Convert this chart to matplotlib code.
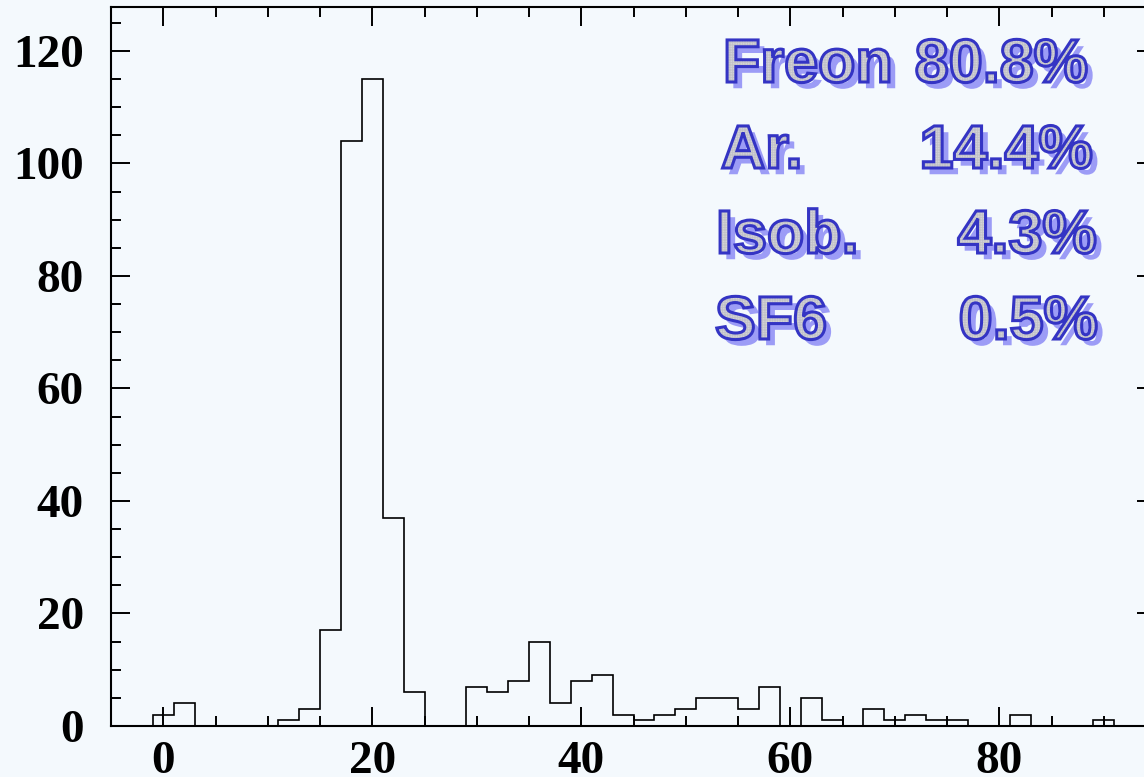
import matplotlib
matplotlib.use('Agg')
import matplotlib.pyplot as plt
import matplotlib.patheffects as pe
import numpy as np
from matplotlib.ticker import MultipleLocator

# histogram bins (width 2, centred on even values)
bin_edges = np.arange(-1, 93, 2)
counts = [2, 4, 0, 0, 0, 0, 1, 3, 17, 104, 115, 37, 6, 0, 0, 7, 6, 8, 15, 4,
          8, 9, 2, 1, 2, 3, 5, 5, 3, 7, 0, 5, 1, 0, 3, 1, 2, 1, 1, 0,
          0, 2, 0, 0, 0, 1]

gas_names = ['Freon', 'Ar.', 'Isob.', 'SF6']
gas_fractions = ['80.8%', '14.4%', '4.3%', '0.5%']

BG = '#f4f9fd'
W, H = 1144, 777

plt.rcParams['hatch.linewidth'] = 0.5

fig = plt.figure(figsize=(W / 100, H / 100), dpi=100, facecolor=BG)
ax = fig.add_axes([111 / W, 51 / H, 1045 / W, 719 / H], facecolor=BG)

ax.stairs(counts, bin_edges, color='black', linewidth=1.2)

ax.set_xlim(-5, 95)
ax.set_ylim(0, 127.8)

ax.xaxis.set_major_locator(MultipleLocator(20))
ax.xaxis.set_minor_locator(MultipleLocator(5))
ax.yaxis.set_major_locator(MultipleLocator(20))
ax.yaxis.set_minor_locator(MultipleLocator(5))

ax.tick_params(which='both', direction='in', top=True, right=True, width=1.4)
ax.tick_params(which='major', length=13.5)
ax.tick_params(which='minor', length=7)
ax.tick_params(axis='x', pad=11)
ax.tick_params(axis='y', pad=19.5)
for lab in ax.get_xticklabels() + ax.get_yticklabels():
    lab.set_fontfamily('Liberation Serif')
    lab.set_fontweight('bold')
    lab.set_fontsize(34)
for sp in ax.spines.values():
    sp.set_linewidth(1.5)

# hollow, shadowed lettering
effects = [
    pe.withSimplePatchShadow(offset=(4.5, -4.5), shadow_rgbFace='#9c9cf6', alpha=1.0),
    pe.PathPatchEffect(facecolor='#dcdcde', edgecolor='#c2c2c8', hatch='++++++++++', linewidth=0),
    pe.PathPatchEffect(facecolor='none', edgecolor='#3434c4', linewidth=2.2),
]

name_x = [723, 721, 716, 715]
value_x = [1088, 1093, 1097, 1098]
row_y = [82, 168, 253, 339]
for name, frac, nx, vx, y in zip(gas_names, gas_fractions, name_x, value_x, row_y):
    fig.text(nx / W, 1 - y / H, name, ha='left', va='baseline', fontsize=44,
             fontfamily='Liberation Sans', fontweight='bold', color='#dcdcde',
             path_effects=effects)
    fig.text(vx / W, 1 - y / H, frac, ha='right', va='baseline', fontsize=44,
             fontfamily='Liberation Sans', fontweight='bold', color='#dcdcde',
             path_effects=effects)

fig.savefig('out.png', dpi=100, facecolor=BG)
